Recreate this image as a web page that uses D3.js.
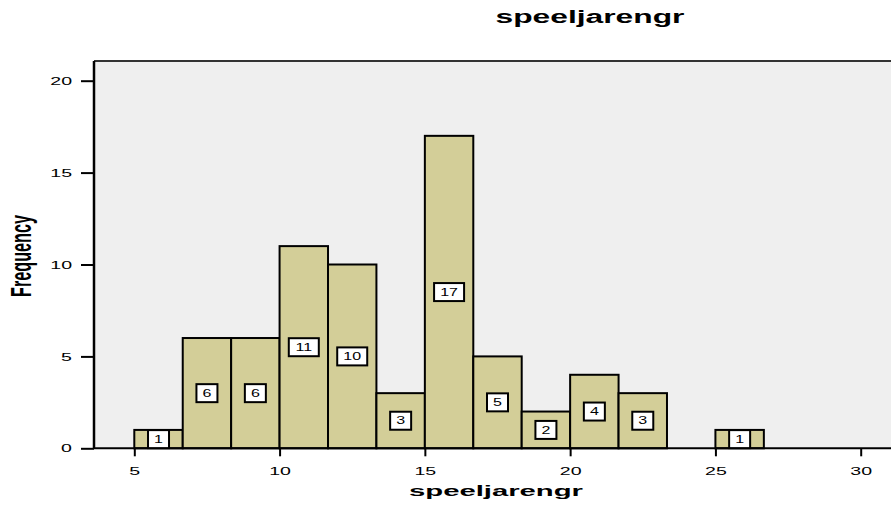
<!DOCTYPE html>
<html>
<head>
<meta charset="utf-8">
<script src="https://cdn.jsdelivr.net/npm/d3@7"></script>
<style>
  body { margin: 0; background: #fff; }
  text { font-family: "Liberation Sans", Arial, sans-serif; fill: #000; }
</style>
</head>
<body>
<script>
// bins of speeljarengr (left edges) and their frequencies
const binStarts = [5, 6.667, 8.333, 10, 11.667, 13.333, 15, 16.667, 18.333, 20, 21.667, 23.333, 25];
const binEnds = [6.667, 8.333, 10, 11.667, 13.333, 15, 16.667, 18.333, 20, 21.667, 23.333, 25, 26.667];
const counts = [1, 6, 6, 11, 10, 3, 17, 5, 2, 4, 3, 0, 1];
const xTicks = [5, 10, 15, 20, 25, 30];
const yTicks = [0, 5, 10, 15, 20];

const w = 891, h = 506;
const plotLeft = 94, plotTop = 61, plotBottom = 448.3;
const stretchK = 1.7;

const svg = d3.select("body").append("svg")
    .attr("width", w).attr("height", h);

const xScale = d3.scaleLinear().domain([5, 30]).range([134.3, 860.7]);
const yScale = d3.scaleLinear().domain([0, 20]).range([plotBottom, 80.7]);

// widen text like the original picture
var stretch = function (sel, k) {
    sel.each(function () {
        const len = this.getComputedTextLength();
        d3.select(this).attr("textLength", len * k).attr("lengthAdjust", "spacingAndGlyphs");
    });
};

// plot background
svg.append("rect")
    .attr("x", plotLeft).attr("y", plotTop)
    .attr("width", w - plotLeft + 10).attr("height", plotBottom - plotTop)
    .attr("fill", "#efefef");

const bins = counts.map((c, i) => ({ x0: binStarts[i], x1: binEnds[i], n: c })).filter(d => d.n > 0);

svg.selectAll("rect.bar")
    .data(bins)
    .enter()
    .append("rect")
    .attr("class", "bar")
    .attr("x", d => xScale(d.x0))
    .attr("y", d => yScale(d.n))
    .attr("width", d => xScale(d.x1) - xScale(d.x0))
    .attr("height", d => plotBottom - yScale(d.n))
    .attr("fill", "#d3ce98")
    .attr("stroke", "#000")
    .attr("stroke-width", 2);

// top border
svg.append("line")
    .attr("x1", plotLeft).attr("x2", w)
    .attr("y1", plotTop).attr("y2", plotTop)
    .attr("stroke", "#333").attr("stroke-width", 2);

// axes
const xAxis = d3.axisBottom(xScale).tickValues(xTicks).tickSize(8).tickPadding(8).tickSizeOuter(0);
const yAxis = d3.axisLeft(yScale).tickValues(yTicks).tickSize(13).tickPadding(9).tickSizeOuter(0);

const gx = svg.append("g").attr("transform", "translate(0," + plotBottom + ")").call(xAxis);
gx.select(".domain").attr("d", "M" + plotLeft + ",0H" + w).attr("stroke-width", 2);
gx.selectAll(".tick line").attr("stroke-width", 2);
gx.selectAll(".tick text").attr("font-size", 11.5).attr("dy", "0.95em").call(stretch, stretchK);

const gy = svg.append("g").attr("transform", "translate(" + plotLeft + ",0)").call(yAxis);
gy.select(".domain").attr("d", "M0," + plotTop + "V" + plotBottom).attr("stroke-width", 2.5);
gy.selectAll(".tick line").attr("stroke-width", 2);
gy.selectAll(".tick text").attr("font-size", 11.5).call(stretch, stretchK);
gy.selectAll("text, g").attr("font-family", null);
gx.selectAll("text, g").attr("font-family", null);

// value labels in boxes
const labels = svg.selectAll("g.lab")
    .data(bins)
    .enter()
    .append("g")
    .attr("class", "lab")
    .attr("transform", d => "translate(" + ((xScale(d.x0) + xScale(d.x1)) / 2) + "," + yScale(d.n / 2) + ")");

labels.append("rect")
    .attr("x", d => -(String(d.n).length === 1 ? 10.5 : 15))
    .attr("y", -9)
    .attr("width", d => String(d.n).length === 1 ? 21 : 30)
    .attr("height", 18)
    .attr("fill", "#fff")
    .attr("stroke", "#000")
    .attr("stroke-width", 2);

labels.append("text")
    .attr("text-anchor", "middle")
    .attr("dy", "0.36em")
    .attr("font-size", 10)
    .text(d => d.n)
    .call(stretch, 1.6);

// titles
svg.append("text")
    .attr("x", 590).attr("y", 23)
    .attr("text-anchor", "middle")
    .attr("font-size", 18).attr("font-weight", "bold")
    .attr("textLength", 189).attr("lengthAdjust", "spacingAndGlyphs")
    .text("speeljarengr");

svg.append("text")
    .attr("x", 496).attr("y", 496)
    .attr("text-anchor", "middle")
    .attr("font-size", 14).attr("font-weight", "bold")
    .attr("textLength", 174).attr("lengthAdjust", "spacingAndGlyphs")
    .text("speeljarengr");

svg.append("text")
    .attr("transform", "translate(31,256) rotate(-90)")
    .attr("text-anchor", "middle")
    .attr("font-size", 30).attr("font-weight", "bold")
    .attr("textLength", 82).attr("lengthAdjust", "spacingAndGlyphs")
    .text("Frequency");
</script>
</body>
</html>
